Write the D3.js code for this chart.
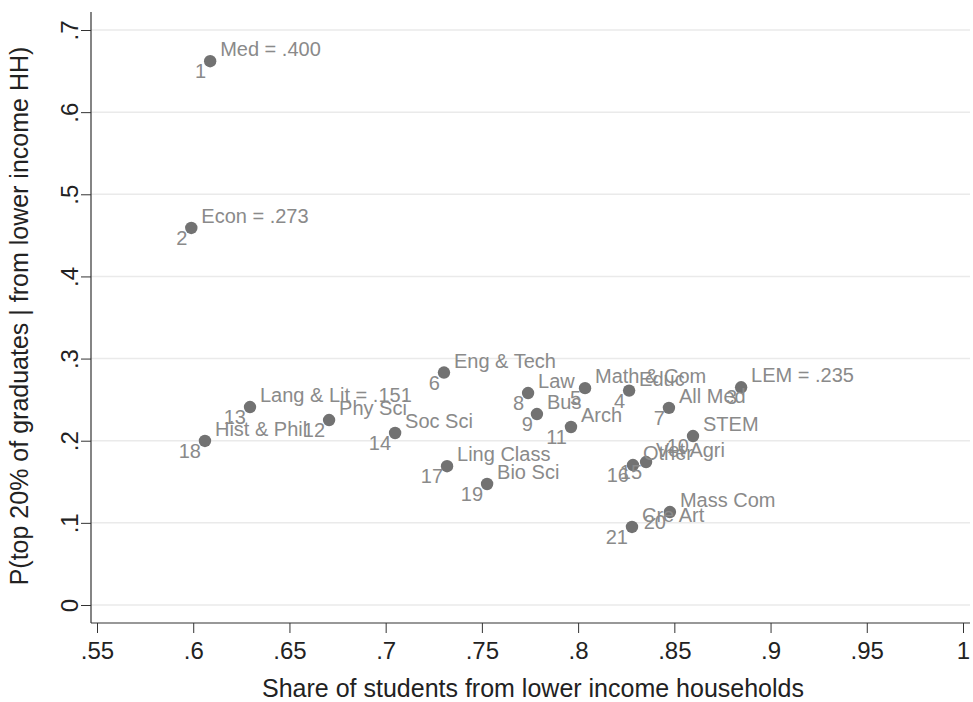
<!DOCTYPE html>
<html><head><meta charset="utf-8">
<script src="https://cdn.jsdelivr.net/npm/d3@7"></script>
<style>body{margin:0;background:#fff}svg{display:block}text{font-family:"Liberation Sans",Arial,sans-serif}</style>
</head><body>
<svg id="c" width="973" height="702"></svg>
<script>
const ids = [1,2,3,4,5,6,7,8,9,10,11,12,13,14,15,16,17,18,19,20,21];
const names = ["Med = .400","Econ = .273","LEM = .235","Educ","Math & Com","Eng & Tech","All Med","Law","Bus","STEM","Arch","Phy Sci","Lang & Lit = .151","Soc Sci","Vet Agri","Other","Ling Class","Hist & Phil","Bio Sci","Mass Com","Cre Art"];
const shares = [0.6088,0.5990,0.8847,0.8265,0.8036,0.7303,0.8472,0.7740,0.7786,0.8597,0.7963,0.6706,0.6295,0.7049,0.8353,0.8285,0.7319,0.6061,0.7527,0.8477,0.8280];
const probs = [0.662,0.459,0.265,0.261,0.264,0.283,0.240,0.258,0.2325,0.2057,0.2167,0.2252,0.241,0.2094,0.174,0.1704,0.169,0.1997,0.1473,0.1132,0.095];
const xTicks = [0.55,0.6,0.65,0.7,0.75,0.8,0.85,0.9,0.95,1];
const xTickLabels = [".55",".6",".65",".7",".75",".8",".85",".9",".95","1"];
const yTicks = [0,0.1,0.2,0.3,0.4,0.5,0.6,0.7];
const yTickLabels = ["0",".1",".2",".3",".4",".5",".6",".7"];
const xTitle = "Share of students from lower income households";
const yTitle = "P(top 20% of graduates | from lower income HH)";

const svg = d3.select("#c");
const L = 91, R = 970, T = 12, B = 623;
const x = d3.scaleLinear().domain([0.55,1]).range([97,963]);
const y = d3.scaleLinear().domain([0,0.7]).range([605,30]);
const narrow = "Liberation Sans Narrow, Liberation Sans, Arial";

// gridlines
svg.append("g").selectAll("line").data(yTicks).join("line")
  .attr("x1",L).attr("x2",R).attr("y1",d=>y(d)).attr("y2",d=>y(d))
  .attr("stroke","#eaeaea").attr("stroke-width",1.5);

// axes
const xAxis = d3.axisBottom(x).tickValues(xTicks).tickFormat((d,i)=>xTickLabels[i]).tickSize(10).tickSizeOuter(0);
const gx = svg.append("g").attr("transform",`translate(0,${B})`).call(xAxis);
gx.select(".domain").remove();
gx.selectAll(".tick line").attr("stroke","#333");
gx.selectAll(".tick text").attr("font-size",24).attr("fill","#222").attr("y",13).attr("dy","0.95em").attr("font-family",narrow);
svg.append("line").attr("x1",L).attr("x2",R).attr("y1",B).attr("y2",B).attr("stroke","#333").attr("stroke-width",1.2);

const yAxis = d3.axisLeft(y).tickValues(yTicks).tickFormat((d,i)=>yTickLabels[i]).tickSize(10).tickSizeOuter(0);
const gy = svg.append("g").attr("transform",`translate(${L},0)`).call(yAxis);
gy.select(".domain").remove();
gy.selectAll(".tick line").attr("stroke","#333");
gy.selectAll(".tick text").attr("font-size",24).attr("fill","#222")
  .attr("font-family",narrow)
  .attr("x",null).attr("dy",null)
  .attr("transform","translate(-22,0) rotate(-90)")
  .attr("text-anchor","middle").attr("dominant-baseline","central");
svg.append("line").attr("x1",L).attr("x2",L).attr("y1",T).attr("y2",B).attr("stroke","#333").attr("stroke-width",1.2);

// titles
svg.append("text").attr("x",533).attr("y",697).attr("text-anchor","middle")
  .attr("font-size",25).attr("fill","#222").text(xTitle);
svg.append("text").attr("transform","translate(28,316) rotate(-90)").attr("text-anchor","middle")
  .attr("font-size",25).attr("fill","#222").text(yTitle);

// points
const data = ids.map((id,i)=>({id, name:names[i], sx:shares[i], py:probs[i]}));
const g = svg.append("g");
g.selectAll("circle").data(data).join("circle")
  .attr("cx",d=>x(d.sx)).attr("cy",d=>y(d.py)).attr("r",6.2).attr("fill","#727272");
g.selectAll("text.nm").data(data).join("text").attr("class","nm")
  .attr("x",d=>x(d.sx)+10).attr("y",d=>y(d.py)-5)
  .attr("font-size",20).attr("fill","#8a8a8a").text(d=>d.name);
g.selectAll("text.id").data(data).join("text").attr("class","id")
  .attr("x",d=>x(d.sx)-4).attr("y",d=>y(d.py)+17).attr("text-anchor","end")
  .attr("font-size",20).attr("fill","#8a8a8a").text(d=>d.id);
</script>
</body></html>
